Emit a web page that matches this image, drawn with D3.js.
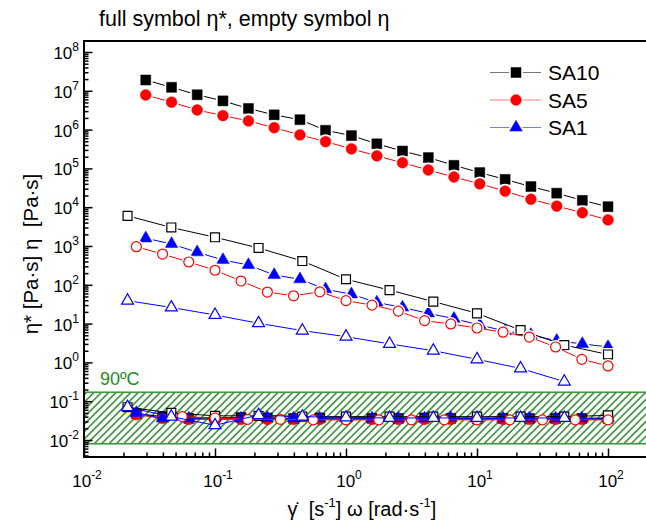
<!DOCTYPE html>
<html>
<head>
<meta charset="utf-8">
<script src="https://cdn.jsdelivr.net/npm/d3@7"></script>
<style>
  body { margin: 0; background: #fff; }
  svg { display: block; font-family: "Liberation Sans", Arial, sans-serif; }
</style>
</head>
<body>
<svg id="chart" width="646" height="521"></svg>
<script>
// ---- frequencies / shear rates [1/s] ----
const freqOsc = [0.0296, 0.0466, 0.0731, 0.115, 0.180, 0.283, 0.445, 0.698, 1.10, 1.72,
                 2.70, 4.25, 6.67, 10.5, 16.4, 25.8, 40.6, 63.7, 100];
const rate3 = [0.0215, 0.0464, 0.1, 0.215, 0.464, 1, 2.15, 4.64, 10, 21.5, 46.4, 100];
const rate5 = [0.0251, 0.0398, 0.0631, 0.1, 0.158, 0.251, 0.398, 0.631, 1, 1.58,
               2.51, 3.98, 6.31, 10, 15.8, 25.1, 39.8, 63.1, 100];
const rate4 = [0.0562, 0.1, 0.178, 0.316, 0.562, 1, 1.78, 3.16, 5.62, 10, 17.8, 31.6, 56.2, 100];

// ---- complex viscosity eta* [Pa s] ----
const sa10Star = [1.9e7, 1.23e7, 7.9e6, 5.5e6, 3.5e6, 2.4e6, 1.8e6, 9.6e5, 7.0e5, 4.3e5,
                  2.8e5, 1.9e5, 1.2e5, 7.8e4, 5.2e4, 3.4e4, 2.3e4, 1.5e4, 1.03e4];
const sa5Star  = [7.8e6, 5.1e6, 3.2e6, 2.3e6, 1.67e6, 1.12e6, 7.3e5, 4.9e5, 3.2e5, 2.1e5,
                  1.4e5, 9.1e4, 6.0e4, 4.0e4, 2.6e4, 1.6e4, 1.07e4, 7.2e3, 4.7e3];
const sa1Star  = [1580, 1130, 690, 436, 324, 179, 139, 77, 57, 35,
                  26, 18.4, 13.4, 9.2, 6.4, 5.1, 3.6, 3.0, 2.5];

// ---- steady shear viscosity eta [Pa s] ----
const sa10Eta = [6000, 3000, 1680, 890, 410, 139, 73, 37, 18.4, 6.8, 2.8, 1.6];
const sa5Eta  = [960, 620, 387, 237, 125, 65, 52, 66, 39, 30, 21, 11.9, 9.8, 7.7, 6.0, 4.5, 2.5, 1.2, 0.81];
const sa1Eta  = [39, 26, 16.7, 10.2, 6.6, 4.6, 3.0, 2.0, 1.2, 0.7, 0.32];

// ---- 90 °C ----
const sa10Star90 = [0.048, 0.040, 0.036, 0.037, 0.038, 0.037, 0.036, 0.037, 0.037, 0.036,
                    0.036, 0.037, 0.036, 0.036, 0.036, 0.036, 0.036, 0.036, 0.036];
const sa5Star90  = [0.045, 0.036, 0.034, 0.034, 0.034, 0.034, 0.034, 0.034, 0.034, 0.034,
                    0.034, 0.034, 0.034, 0.034, 0.034, 0.034, 0.034, 0.034, 0.034];
const sa1Star90  = [0.050, 0.036, 0.036, 0.038, 0.036, 0.037, 0.036, 0.036, 0.037, 0.036,
                    0.036, 0.036, 0.037, 0.036, 0.036, 0.036, 0.036, 0.036, 0.037];
const sa10Eta90 = [0.070, 0.050, 0.042, 0.042, 0.040, 0.040, 0.040, 0.040, 0.040, 0.040, 0.040, 0.043];
const sa5Eta90  = [0.040, 0.037, 0.034, 0.034, 0.033, 0.033, 0.033, 0.033, 0.033, 0.033, 0.033, 0.033, 0.033, 0.033];
const sa1Eta90  = [0.070, 0.040, 0.024, 0.044, 0.040, 0.038, 0.037, 0.037, 0.037, 0.037, 0.037];

const band90 = [0.008, 0.17];          // shaded 90 °C range of eta
const xMajor = [-2, -1, 0, 1, 2];      // decade exponents
const yMajor = [-2, -1, 0, 1, 2, 3, 4, 5, 6, 7, 8];
const legendNames = ["SA10", "SA5", "SA1"];

// ---- layout ----
const svg = d3.select("#chart");
const L = 84, R = 647, T = 41, B = 457;
const x = d3.scaleLog().domain([1e-2, 1e2]).range([84, 608]);
const y = d3.scaleLog().domain([1e-2, 1e8]).range([440, 52]);

const col = { k: "#000000", r: "#ff0000", b: "#0000ff" };
const colLeg = { k: "#777777", r: "#ff7777", b: "#7777ff" };
const green = "#2a8c2a";

// hatch pattern for the 90 °C band
const defs = svg.append("defs");
defs.append("pattern")
  .attr("id", "hatch").attr("patternUnits", "userSpaceOnUse")
  .attr("width", 5.2).attr("height", 5.2)
  .attr("patternTransform", "rotate(45)")
  .append("line").attr("x1", 0.8).attr("y1", -1).attr("x2", 0.8).attr("y2", 7)
  .attr("stroke", green).attr("stroke-width", 1.5);

svg.append("rect")
  .attr("x", L).attr("width", R - L)
  .attr("y", y(band90[1])).attr("height", y(band90[0]) - y(band90[1]))
  .attr("fill", "url(#hatch)")
  .attr("stroke", "#3f9a3f").attr("stroke-width", 1.6);

svg.append("text")
  .attr("x", 100).attr("y", y(band90[1]) - 7)
  .attr("font-size", 18).attr("fill", "#1f8a1f")
  .text("90ºC");

// ---- symbols ----
const shapes = {
  square: { type: d3.symbolSquare, filled: 100, open: 80 },
  circle: { type: d3.symbolCircle, filled: 92, open: 78 },
  triangle: { type: d3.symbolTriangle, filled: 68, open: 62 }
};

function drawSeries(xs, ys, color, shape, filled, halo) {
  const g = svg.append("g");
  const pts = xs.map((v, i) => [v, ys[i]]);
  g.append("path")
    .attr("d", d3.line().x(d => x(d[0])).y(d => y(d[1]))(pts))
    .attr("fill", "none").attr("stroke", color).attr("stroke-width", 1);
  const s = shapes[shape];
  const sym = d3.symbol().type(s.type).size(filled ? s.filled : s.open);
  if (halo) {
    g.selectAll("path.halo").data(pts).join("path").attr("class", "halo")
      .attr("transform", d => `translate(${x(d[0])},${y(d[1])})`)
      .attr("d", sym).attr("fill", "#fff").attr("stroke", "#fff").attr("stroke-width", 4);
  }
  g.selectAll("path.mk").data(pts).join("path").attr("class", "mk")
    .attr("transform", d => `translate(${x(d[0])},${y(d[1])})`)
    .attr("d", sym)
    .attr("fill", filled ? color : "#fff")
    .attr("stroke", color).attr("stroke-width", filled ? 0.5 : 1.2);
}

// 90 °C cluster
drawSeries(rate5, sa10Star90, col.k, "square", true, false);
drawSeries(rate5, sa5Star90, col.r, "circle", true, false);
drawSeries(rate5, sa1Star90, col.b, "triangle", true, false);
drawSeries(rate3, sa10Eta90, col.k, "square", false, false);
drawSeries(rate4, sa5Eta90, col.r, "circle", false, false);
drawSeries(rate3.slice(0, sa1Eta90.length), sa1Eta90, col.b, "triangle", false, false);

// main curves
drawSeries(freqOsc, sa10Star, col.k, "square", true, true);
drawSeries(freqOsc, sa5Star, col.r, "circle", true, true);
drawSeries(freqOsc, sa1Star, col.b, "triangle", true, true);
drawSeries(rate3, sa10Eta, col.k, "square", false, true);
drawSeries(rate5, sa5Eta, col.r, "circle", false, true);
drawSeries(rate3.slice(0, sa1Eta.length), sa1Eta, col.b, "triangle", false, true);

// ---- axes ----
const minorX = [], minorY = [];
for (let e = -2; e <= 2; e++) for (let m = 2; m <= 9; m++) {
  const v = m * Math.pow(10, e); if (x(v) < R - 2) minorX.push(v);
}
for (let e = -3; e <= 8; e++) for (let m = 2; m <= 9; m++) {
  const v = m * Math.pow(10, e); if (y(v) > T + 1 && y(v) < B - 1) minorY.push(v);
}
const majX = xMajor.map(e => Math.pow(10, e));
const majY = yMajor.map(e => Math.pow(10, e));

function ticks(axis, vals, size, tr) {
  const g = svg.append("g").attr("transform", tr)
    .call(axis.tickValues(vals).tickSize(-size).tickFormat(""));
  g.select(".domain").remove();
  g.selectAll(".tick line").attr("stroke", "#000").attr("stroke-width", 1.5);
}
ticks(d3.axisBottom(x), minorX, 4.5, `translate(0,${B})`);
ticks(d3.axisBottom(x), majX, 8.5, `translate(0,${B})`);
ticks(d3.axisLeft(y), minorY, 4.5, `translate(${L},0)`);
ticks(d3.axisLeft(y), majY, 8.5, `translate(${L},0)`);

// frame
svg.append("path")
  .attr("d", `M${R},${T}H${L}V${B}H${R}`)
  .attr("fill", "none").attr("stroke", "#000").attr("stroke-width", 2);

// tick labels 10^n
function powText(sel, e, sup) {
  sel.append("tspan").text("10");
  sel.append("tspan").attr("dy", -8).attr("font-size", sup).text(e);
}
svg.append("g").selectAll("text").data(yMajor).join("text")
  .attr("x", 79).attr("y", e => y(Math.pow(10, e)) + 7)
  .attr("text-anchor", "end").attr("font-size", 17)
  .each(function (e) { powText(d3.select(this), e, 12); });
svg.append("g").selectAll("text").data(xMajor).join("text")
  .attr("x", e => x(Math.pow(10, e)) + 3).attr("y", 487)
  .attr("text-anchor", "middle").attr("font-size", 17)
  .each(function (e) { powText(d3.select(this), e, 12); });

// axis titles
const xt = svg.append("text").attr("x", 362).attr("y", 516)
  .attr("text-anchor", "middle").attr("font-size", 20).style("white-space", "pre");
xt.append("tspan").text("\u03B3\u0307  [s");
xt.append("tspan").attr("dy", -9).attr("font-size", 13).text("-1");
xt.append("tspan").attr("dy", 9).text("] \u03C9 [rad\u00B7s");
xt.append("tspan").attr("dy", -9).attr("font-size", 13).text("-1");
xt.append("tspan").attr("dy", 9).text("]");

svg.append("text")
  .attr("transform", "translate(38,254) rotate(-90)")
  .attr("text-anchor", "middle").attr("font-size", 20.5).style("white-space", "pre")
  .text("\u03B7* [Pa\u00B7s] \u03B7  [Pa\u00B7s]");

svg.append("text").attr("x", 99).attr("y", 26).attr("font-size", 21.5)
  .text("full symbol \u03B7*, empty symbol \u03B7");

// ---- legend ----
const legRows = [
  { name: legendNames[0], c: "k", shape: "square" },
  { name: legendNames[1], c: "r", shape: "circle" },
  { name: legendNames[2], c: "b", shape: "triangle" }
];
const leg = svg.append("g");
legRows.forEach((r, i) => {
  const cy = 72.5 + i * 27.5;
  leg.append("line").attr("x1", 490).attr("x2", 541).attr("y1", cy).attr("y2", cy)
    .attr("stroke", colLeg[r.c]).attr("stroke-width", 1.2);
  const sym = d3.symbol().type(shapes[r.shape].type).size(shapes[r.shape].filled);
  leg.append("path").attr("transform", `translate(516,${cy})`).attr("d", sym)
    .attr("fill", "#fff").attr("stroke", "#fff").attr("stroke-width", 4);
  leg.append("path").attr("transform", `translate(516,${cy})`).attr("d", sym)
    .attr("fill", col[r.c]).attr("stroke", col[r.c]).attr("stroke-width", 0.5);
  leg.append("text").attr("x", 548).attr("y", cy + 7.5).attr("font-size", 21).text(r.name);
});
</script>
</body>
</html>
